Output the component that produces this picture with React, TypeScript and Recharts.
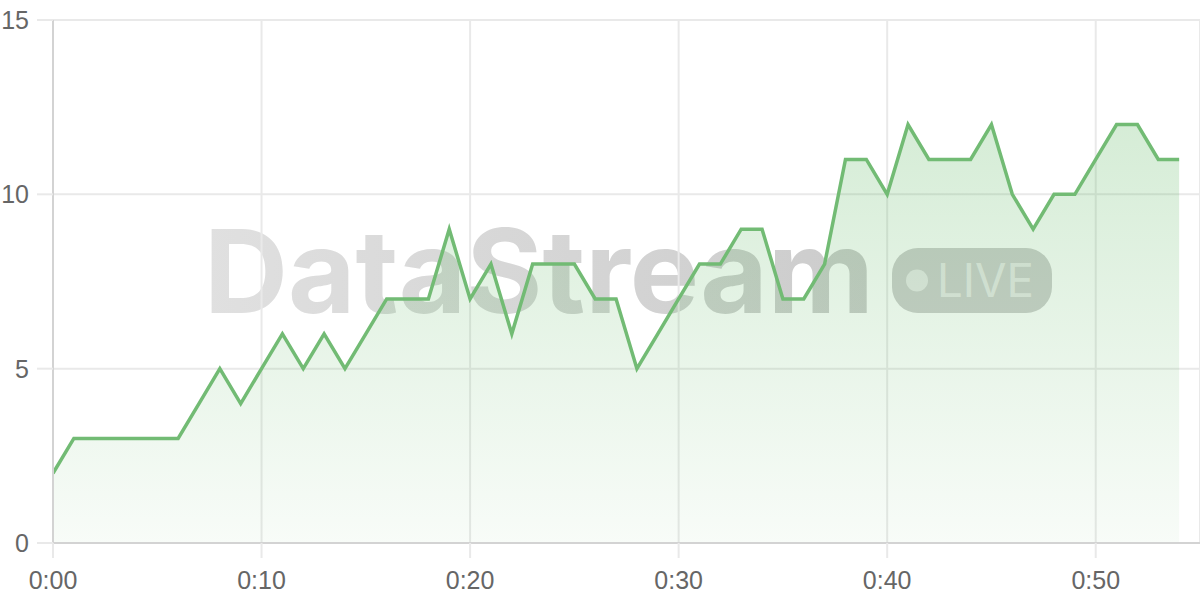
import { AreaChart, Area, XAxis, YAxis, CartesianGrid } from 'recharts';

// Brand green used for the stream line and its soft fill
const LINE_COLOR = '#72bb74';
const FILL_COLOR = '#4caf50';
const GRID_COLOR = '#e9e9e9';
const AXIS_COLOR = '#d3d3d3';

const TICK_STYLE = { fill: '#666', fontSize: 25, fontFamily: '"Liberation Sans", Arial, sans-serif' };

// Minutes since the stream started
const MINUTES = [
  0, 1, 2, 3, 4, 5, 6, 7, 8, 9,
  10, 11, 12, 13, 14, 15, 16, 17, 18, 19,
  20, 21, 22, 23, 24, 25, 26, 27, 28, 29,
  30, 31, 32, 33, 34, 35, 36, 37, 38, 39,
  40, 41, 42, 43, 44, 45, 46, 47, 48, 49,
  50, 51, 52, 53, 54,
];

// Value read at each minute
const VALUES = [
  2, 3, 3, 3, 3, 3, 3, 4, 5, 4,
  5, 6, 5, 6, 5, 6, 7, 7, 7, 9,
  7, 8, 6, 8, 8, 8, 7, 7, 5, 6,
  7, 8, 8, 9, 9, 7, 7, 8, 11, 11,
  10, 12, 11, 11, 11, 12, 10, 9, 10, 10,
  11, 12, 12, 11, 11,
];

const X_TICKS = [0, 10, 20, 30, 40, 50];
const Y_TICKS = [0, 5, 10, 15];

const data = MINUTES.map((m, i) => ({ minute: m, value: VALUES[i] }));

const fmtMinute = (m: number) => `0:${String(m).padStart(2, '0')}`;

/** Logo watermark painted behind the plot. */
function Watermark() {
  return (
    <svg width={1200} height={600} style={{ position: 'absolute', left: 0, top: 0 }}>
      <defs>
        <linearGradient id="wmText" x1="0" y1="0" x2="1" y2="0">
          <stop offset="0%" stopColor="#e0e0e0" />
          <stop offset="100%" stopColor="#cccccc" />
        </linearGradient>
      </defs>
      <text
        x={204}
        y={313}
        fontFamily="Inter, sans-serif"
        fontWeight={700}
        fontSize={116}
        fill="url(#wmText)"
        textLength={670}
        lengthAdjust="spacingAndGlyphs"
      >
        DataStream
      </text>
      <rect x={892} y={248} width={160} height={65} rx={26} fill="#cfcfcf" />
      <circle cx={917} cy={280.5} r={11} fill="#fff" fillOpacity={0.55} />
      <text
        x={937}
        y={297}
        fontFamily="Inter, sans-serif"
        fontWeight={400}
        fontSize={46}
        fill="#fff"
        fillOpacity={0.55}
        textLength={97}
        lengthAdjust="spacingAndGlyphs"
      >
        LIVE
      </text>
    </svg>
  );
}

export default function App() {
  return (
    <div style={{ position: 'absolute', left: 0, top: 0, width: 1200, height: 600, background: '#fff' }}>
      <Watermark />
      <div style={{ position: 'absolute', left: 0, top: 0 }}>
        <AreaChart width={1200} height={600} data={data} margin={{ top: 20, right: 0, bottom: 0, left: 0 }}>
          <defs>
            <linearGradient id="streamFill" gradientUnits="userSpaceOnUse" x1="0" y1="20" x2="0" y2="543">
              <stop offset="0%" stopColor={FILL_COLOR} stopOpacity={0.28} />
              <stop offset="100%" stopColor={FILL_COLOR} stopOpacity={0.04} />
            </linearGradient>
          </defs>
          <CartesianGrid stroke={GRID_COLOR} strokeWidth={2} />
          <XAxis
            dataKey="minute"
            type="number"
            domain={[0, 55]}
            ticks={X_TICKS}
            tickFormatter={fmtMinute}
            height={57}
            tickSize={15}
            tickMargin={13}
            tick={TICK_STYLE}
            tickLine={{ stroke: GRID_COLOR, strokeWidth: 2 }}
            axisLine={{ stroke: AXIS_COLOR, strokeWidth: 2 }}
            allowDataOverflow
          />
          <YAxis
            domain={[0, 15]}
            ticks={Y_TICKS}
            width={53}
            tickSize={16}
            tickMargin={8}
            tick={TICK_STYLE}
            tickLine={{ stroke: GRID_COLOR, strokeWidth: 2 }}
            axisLine={{ stroke: AXIS_COLOR, strokeWidth: 2 }}
          />
          <Area
            type="linear"
            dataKey="value"
            stroke={LINE_COLOR}
            strokeWidth={3.5}
            fill="url(#streamFill)"
            fillOpacity={1}
            dot={false}
            activeDot={false}
            isAnimationActive={false}
          />
        </AreaChart>
      </div>
    </div>
  );
}
